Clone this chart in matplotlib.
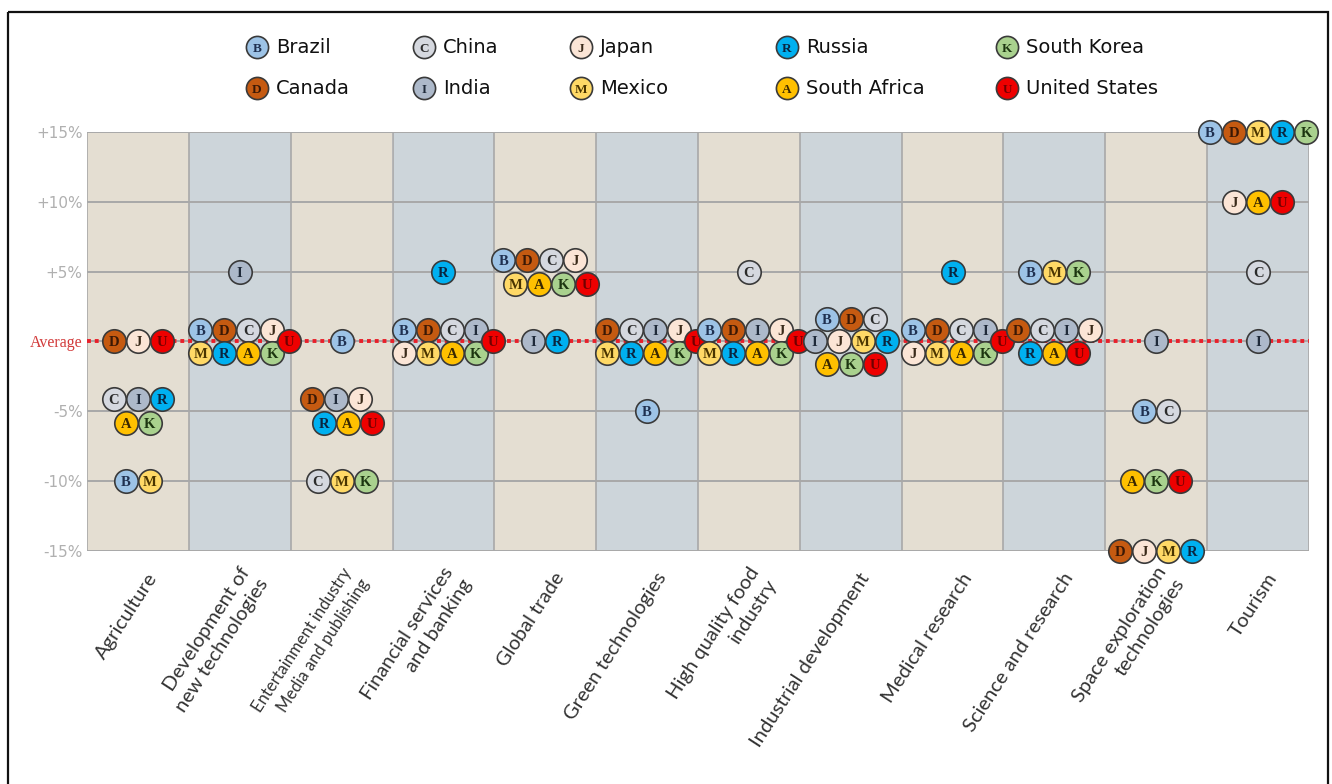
import matplotlib.pyplot as plt
from matplotlib.patches import Rectangle

W, H = 1332, 784

categories = ["Agriculture", "Development of\nnew technologies",
              "Entertainment industry\nMedia and publishing",
              "Financial services\nand banking", "Global trade",
              "Green technologies", "High quality food\nindustry",
              "Industrial development", "Medical research",
              "Science and research", "Space exploration\ntechnologies",
              "Tourism"]

countries = ["Brazil", "Canada", "China", "India", "Japan", "Mexico",
             "Russia", "South Africa", "South Korea", "United States"]
letters = ["B", "D", "C", "I", "J", "M", "R", "A", "K", "U"]

# % versus average, one value per category
brazil = [-10, 0, 0, 0, 5, -5, 0, 0, 0, 5, -5, 15]
canada = [0, 0, -5, 0, 5, 0, 0, 0, 0, 0, -15, 15]
china = [-5, 0, -10, 0, 5, 0, 5, 0, 0, 0, -5, 5]
india = [-5, 5, -5, 0, 0, 0, 0, 0, 0, 0, 0, 0]
japan = [0, 0, -5, 0, 5, 0, 0, 0, 0, 0, -15, 10]
mexico = [-10, 0, -10, 0, 5, 0, 0, 0, 0, 5, -15, 15]
russia = [-5, 0, -5, 5, 0, 0, 0, 0, 5, 0, -15, 15]
south_africa = [-5, 0, -5, 0, 5, 0, 0, 0, 0, 0, -10, 10]
south_korea = [-5, 0, -10, 0, 5, 0, 0, 0, 0, 5, -10, 15]
united_states = [0, 0, -5, 0, 5, 0, 0, 0, 0, 0, -10, 10]
series = [brazil, canada, china, india, japan, mexico, russia,
          south_africa, south_korea, united_states]

yticks = [-15, -10, -5, 0, 5, 10, 15]
ylabels = ["-15%", "-10%", "-5%", "Average", "+5%", "+10%", "+15%"]

fills = ["#9dc3e6", "#c55a11", "#d5d8df", "#adb9ca", "#fbe5d6",
         "#ffd966", "#00b0f0", "#ffc000", "#a9d18e", "#ee0000"]
inks = ["#1f3050", "#3a1805", "#2b2b2b", "#1f2a3a", "#3a2a1a",
        "#4a3500", "#0a2540", "#3a2800", "#1c3510", "#700000"]

fig = plt.figure(figsize=(W / 100, H / 100), dpi=100)
ax_l, ax_r, ax_t, ax_b = 87, 1309, 132, 551
ax = fig.add_axes([ax_l / W, 1 - ax_b / H, (ax_r - ax_l) / W, (ax_b - ax_t) / H])

ncat = len(categories)
for i in range(ncat):
    ax.axvspan(i - 0.5, i + 0.5, color="#e4ded2" if i % 2 == 0 else "#cdd5da",
               lw=0, zorder=0)
ax.hlines(yticks, -0.5, ncat - 0.5, color="#a8a8a8", lw=1.4, zorder=1)
ax.vlines([i - 0.5 for i in range(ncat + 1)], -15, 15, color="#a8a8a8",
          lw=1.2, zorder=1)
ax.axhline(0, color="#e8202a", lw=2.8, dashes=(1.0, 1.0), zorder=2)

ax.set_xlim(-0.5, ncat - 0.5)
ax.set_ylim(-15, 15)
for s in ax.spines.values():
    s.set_visible(False)
ax.set_xticks([])
ax.set_yticks(yticks)
ax.set_yticklabels(ylabels)
ax.tick_params(axis="y", length=0, pad=3, labelsize=11, labelcolor="#b0b0b0")
for t in ax.get_yticklabels():
    if t.get_text() == "Average":
        t.set_color("#d23a3a")
        t.set_fontfamily("Liberation Serif")
        t.set_fontsize(11.5)

# category labels
for i, name in enumerate(categories):
    small = name.startswith("Entertainment")
    ax.annotate(name, xy=(i, 0), xycoords=("data", "axes fraction"),
                xytext=(11, -17), textcoords="offset points",
                rotation=57, rotation_mode="anchor", ha="right", va="center",
                multialignment="right", linespacing=1.35,
                fontsize=12 if small else 14.5, family="Lato",
                color="#333333", annotation_clip=False)

# marker packing
diam_px = 24
dx = diam_px / ((ax_r - ax_l) / ncat)
ROWS = {5: [3, 2], 6: [3, 3], 7: [4, 3], 8: [4, 4], 9: [4, 4, 1], 10: [3, 4, 3]}


def offsets(n, edge):
    rows = [n] if (edge or n <= 4) else ROWS[n]
    out = []
    if len(rows) == 1:
        out = [(k - (n - 1) / 2, 0.0) for k in range(n)]
    elif rows == [4, 4, 1]:
        out = [(k - 1.65, 0.85) for k in range(4)]
        out += [(k - 1.65, -0.85) for k in range(4)]
        out += [(2.05, 0.0)]
    elif len(rows) == 2:
        a, b = rows
        sh = 0.25 if a == b else 0.0
        out = [(k - (a - 1) / 2 - sh, 0.85) for k in range(a)]
        out += [(k - (b - 1) / 2 + sh, -0.85) for k in range(b)]
    else:
        for r, cnt in zip([1.6, 0.0, -1.6], rows):
            out += [(k - (cnt - 1) / 2, r) for k in range(cnt)]
    return out


def bubble(axis, x, y, j, z, s=285, fs=10.5):
    axis.scatter([x], [y], s=s, c=fills[j], edgecolors="#3a3a3a",
                 linewidths=1.2, zorder=z, clip_on=False)
    axis.text(x, y, letters[j], ha="center", va="center_baseline",
              fontsize=fs, fontweight="bold", family="Liberation Serif",
              color=inks[j], zorder=z + 0.001, clip_on=False)


z = 3.0
for i in range(ncat):
    vals = [ser[i] for ser in series]
    for v in sorted(set(vals), reverse=True):
        idx = [j for j in range(len(countries)) if vals[j] == v]
        offs = offsets(len(idx), abs(v) == 15)
        for j, (ox, oy) in zip(idx, offs):
            bubble(ax, i + ox * dx, v + oy, j, z)
            z += 0.01

# legend and frame on a pixel overlay
lg = fig.add_axes([0, 0, 1, 1])
lg.set_xlim(0, W)
lg.set_ylim(H, 0)
lg.axis("off")
lg.patch.set_alpha(0)
col_x = [257, 424, 581, 787, 1007]
row_y = [47, 88]
for j, name in enumerate(countries):
    cx, cy = col_x[j // 2], row_y[j % 2]
    bubble(lg, cx, cy, j, 5, s=255, fs=9.5)
    lg.text(cx + 19, cy, name, ha="left", va="center", fontsize=14,
            family="DejaVu Sans", color="#111111")
lg.add_patch(Rectangle((8, 12), 1320, 800, fill=False, ec="#111111", lw=1.6,
                       clip_on=False))

fig.savefig("out.png", dpi=100)
